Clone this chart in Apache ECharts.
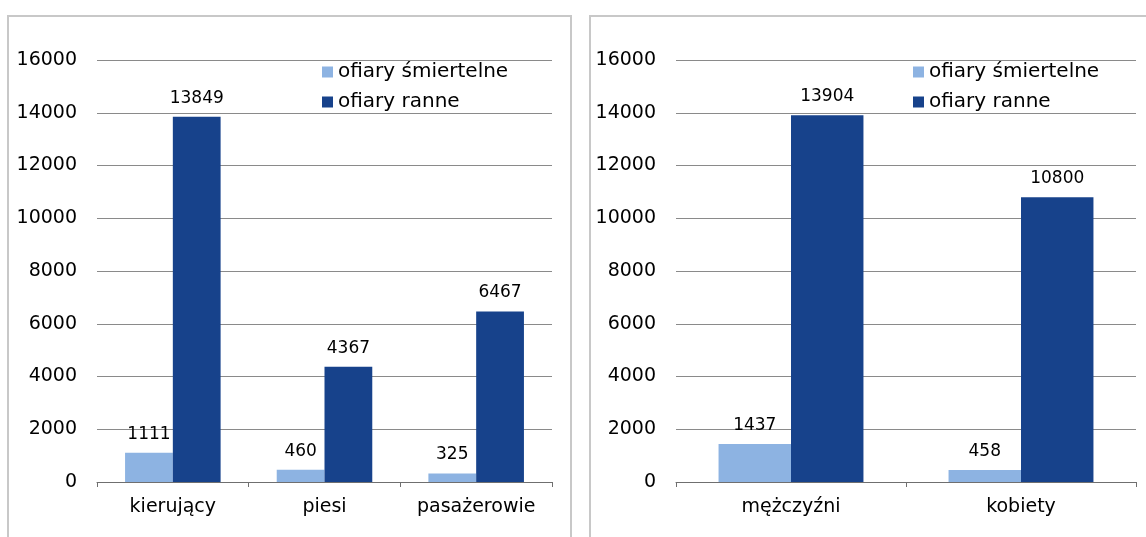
<!DOCTYPE html>
<html>
<head>
<meta charset="utf-8">
<script src="https://cdn.jsdelivr.net/npm/echarts@6/dist/echarts.min.js"></script>
<style>
  html, body { margin: 0; padding: 0; background: #fff; }
  #chart { width: 1146px; height: 537px; }
</style>
</head>
<body>
<div id="chart"></div>
<script>
  // dane
  let groupCats = ["kierujący", "piesi", "pasażerowie"];
  let groupDead = [1111, 460, 325];
  let groupHurt = [13849, 4367, 6467];

  let sexCats = ["mężczyźni", "kobiety"];
  let sexDead = [1437, 458];
  let sexHurt = [13904, 10800];

  let seriesNames = ["ofiary śmiertelne", "ofiary ranne"];
  let yTicks = [0, 2000, 4000, 6000, 8000, 10000, 12000, 14000, 16000];

  let font = "DejaVu Sans, Verdana, sans-serif";
  let lightColor = "#8DB3E2";
  let darkColor = "#17428B";

  let chart = echarts.init(document.getElementById("chart"));

  function yAxis(idx) {
    return {
      gridIndex: idx,
      type: "value",
      min: yTicks[0],
      max: yTicks[yTicks.length - 1],
      interval: yTicks[1] - yTicks[0],
      axisLine: { show: false },
      axisTick: { show: false },
      axisLabel: {
        color: "#000",
        fontSize: 19,
        fontFamily: font,
        margin: 20,
        formatter: (v) => String(v),
      },
      splitLine: { lineStyle: { color: "#8a8a8a", width: 1 } },
    };
  }

  function xAxis(idx, cats) {
    return {
      gridIndex: idx,
      type: "category",
      data: cats,
      axisLine: { lineStyle: { color: "#6f6f6f", width: 1 } },
      axisTick: { show: true, length: 5, lineStyle: { color: "#6f6f6f" } },
      axisLabel: { interval: 0, color: "#000", fontSize: 19, fontFamily: font, margin: 16 },
    };
  }

  function barSeries(name, idx, data, color) {
    return {
      name: name,
      type: "bar",
      xAxisIndex: idx,
      yAxisIndex: idx,
      barGap: "0%",
      barCategoryGap: "37%",
      itemStyle: { color: color },
      label: {
        show: true,
        position: "top",
        distance: 10,
        color: "#000",
        fontSize: 17,
        fontFamily: font,
      },
      data: data,
    };
  }

  function legend(left, idx) {
    return {
      orient: "vertical",
      left: left,
      top: 62,
      padding: 0,
      itemGap: 10,
      itemWidth: 11,
      itemHeight: 11,
      icon: "rect",
      data: seriesNames,
      textStyle: { color: "#000", fontSize: 20, fontFamily: font },
    };
  }

  let option = {
    animation: false,
    backgroundColor: "#fff",
    graphic: [
      {
        type: "rect",
        shape: { x: 8, y: 16, width: 563, height: 540 },
        style: { fill: "none", stroke: "#c8c8c8", lineWidth: 2 },
        silent: true,
      },
      {
        type: "rect",
        shape: { x: 590, y: 16, width: 580, height: 540 },
        style: { fill: "none", stroke: "#c8c8c8", lineWidth: 2 },
        silent: true,
      },
    ],
    grid: [
      { left: 97, right: 594, top: 60, bottom: 55 },
      { left: 676, right: 10, top: 60, bottom: 55 },
    ],
    legend: [legend(322, 0), legend(913, 1)],
    xAxis: [xAxis(0, groupCats), xAxis(1, sexCats)],
    yAxis: [yAxis(0), yAxis(1)],
    series: [
      barSeries(seriesNames[0], 0, groupDead, lightColor),
      barSeries(seriesNames[1], 0, groupHurt, darkColor),
      barSeries(seriesNames[0], 1, sexDead, lightColor),
      barSeries(seriesNames[1], 1, sexHurt, darkColor),
    ],
  };
  chart.setOption(option);
</script>
</body>
</html>
